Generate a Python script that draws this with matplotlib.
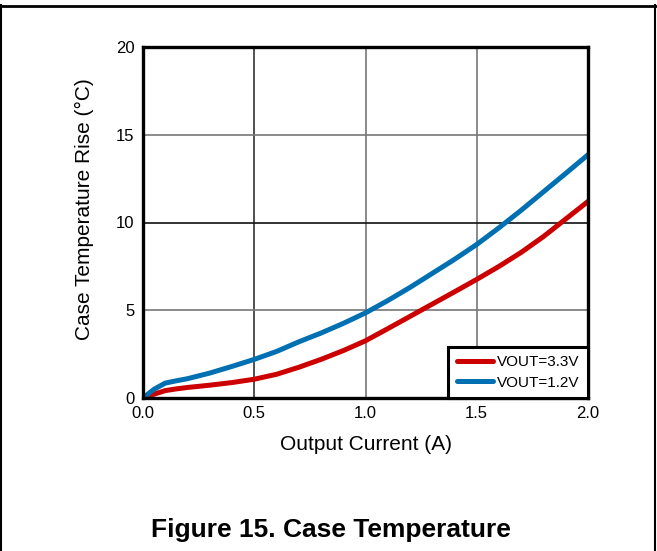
import matplotlib
matplotlib.use("Agg")
import matplotlib.pyplot as plt
from matplotlib.lines import Line2D

plt.rcParams['font.family'] = ['Liberation Sans', 'DejaVu Sans']

current = [0, 0.05, 0.1, 0.15, 0.2, 0.3, 0.4, 0.5, 0.6, 0.7, 0.8, 0.9, 1.0,
           1.1, 1.2, 1.3, 1.4, 1.5, 1.6, 1.7, 1.8, 1.9, 2.0]
rise_3v3 = [0, 0.22, 0.42, 0.52, 0.6, 0.73, 0.88, 1.07, 1.35, 1.75, 2.2, 2.7, 3.26,
            3.95, 4.65, 5.35, 6.05, 6.76, 7.5, 8.3, 9.2, 10.2, 11.2]
rise_1v2 = [0, 0.5, 0.85, 0.98, 1.1, 1.42, 1.8, 2.2, 2.65, 3.2, 3.7, 4.25, 4.85,
            5.55, 6.3, 7.1, 7.9, 8.75, 9.7, 10.7, 11.75, 12.8, 13.86]
labels = ["VOUT=3.3V", "VOUT=1.2V"]
xticks = [0.0, 0.5, 1.0, 1.5, 2.0]
xticklabels = ["0.0", "0.5", "1.0", "1.5", "2.0"]
yticks = [0, 5, 10, 15, 20]

fig = plt.figure(figsize=(6.57, 5.51), dpi=100)
ax = fig.add_axes([143/657, 1-398/551, (588-143)/657, (398-47)/551])

ax.plot(current, rise_3v3, color='#CC0000', lw=3.6, label=labels[0], solid_capstyle='round', zorder=3)
ax.plot(current, rise_1v2, color='#0070B2', lw=3.6, label=labels[1], solid_capstyle='round', zorder=4)

ax.set_xlim(0, 2.0)
ax.set_ylim(0, 20)
ax.set_xticks(xticks)
ax.set_xticklabels(xticklabels)
ax.set_yticks(yticks)
ax.tick_params(length=0, labelsize=12, pad=6)
ax.grid(True, color='#777777', lw=1.2, zorder=1)
for gl, c in zip(ax.get_xgridlines(), ['#777', '#333', '#777', '#777', '#777']):
    gl.set_color(c)
for gl, c in zip(ax.get_ygridlines(), ['#777', '#777', '#111', '#777', '#777']):
    gl.set_color(c)
for s in ax.spines.values():
    s.set_linewidth(2.4)
    s.set_color('black')
    s.set_zorder(5)

ax.set_xlabel("Output Current (A)", fontsize=15)
ax.set_ylabel("Case Temperature Rise (\u00b0C)", fontsize=15)
ax.xaxis.set_label_coords((366-143)/445, -(445-398)/351)
ax.yaxis.set_label_coords(-(143-84)/445, (398-209)/351)
ax.xaxis.label.set_va('center')
ax.yaxis.label.set_va('center')

leg = ax.legend(loc='lower right', borderaxespad=0, fancybox=False, fontsize=11,
                handlelength=2.4, handletextpad=0.25, borderpad=0.55, labelspacing=0.4,
                framealpha=1)
leg.get_frame().set_edgecolor('black')
leg.get_frame().set_linewidth(2.2)
leg.set_zorder(6)

fig.text(331/657, 1-530/551, "Figure 15. Case Temperature", ha='center', va='center',
         fontsize=19, fontweight='bold')

# page frame lines
fig.add_artist(Line2D([1/657, 1/657], [0, 1-5/551], color='black', lw=1.5, transform=fig.transFigure))
fig.add_artist(Line2D([655/657, 655/657], [0, 1-5/551], color='black', lw=1.5, transform=fig.transFigure))
fig.add_artist(Line2D([0, 1], [1-5.5/551, 1-5.5/551], color='black', lw=2, transform=fig.transFigure))

fig.savefig("out.png", dpi=100)
